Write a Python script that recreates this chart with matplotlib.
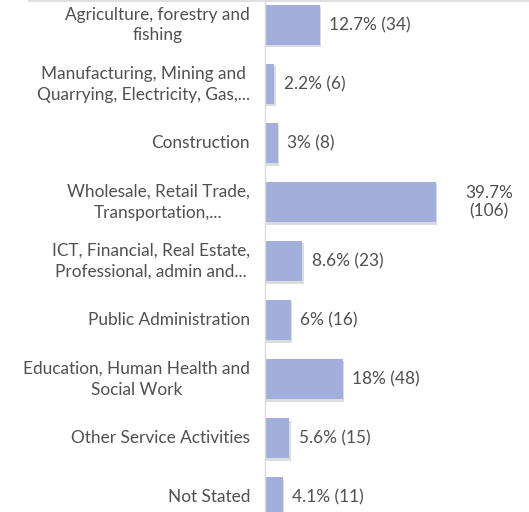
import matplotlib.pyplot as plt
from matplotlib.lines import Line2D

categories = ['Agriculture, forestry and\nfishing',
              'Manufacturing, Mining and\nQuarrying, Electricity, Gas,...',
              'Construction',
              'Wholesale, Retail Trade,\nTransportation,...',
              'ICT, Financial, Real Estate,\nProfessional, admin and...',
              'Public Administration',
              'Education, Human Health and\nSocial Work',
              'Other Service Activities',
              'Not Stated']
percents = [12.7, 2.2, 3, 39.7, 8.6, 6, 18, 5.6, 4.1]
counts = [34, 6, 8, 106, 23, 16, 48, 15, 11]
value_labels = ['12.7% (34)', '2.2% (6)', '3% (8)', '39.7%\n(106)', '8.6% (23)',
                '6% (16)', '18% (48)', '5.6% (15)', '4.1% (11)']

plt.rcParams['font.family'] = ['Lato', 'DejaVu Sans']
txt = '#505050'
bar_col = '#a2aedb'
fs = 12.4

fig = plt.figure(figsize=(5.29, 5.12), dpi=100)
ax = fig.add_axes([265 / 529, 0, 1 - 265 / 529, 1])

ypos = list(range(len(categories)))
# faint shadow then bar
ax.barh([y + 0.04 for y in ypos], [p + 0.35 for p in percents], height=0.68,
        color='#dcdcdc', left=0.0, zorder=1)
ax.barh(ypos, percents, height=0.68, color=bar_col, zorder=2)

for y, p, lab in zip(ypos, percents, value_labels):
    if '\n' in lab:
        ax.text(p + 12.3, y, lab, ha='center', va='center', fontsize=fs,
                color=txt, linespacing=1.15)
    else:
        ax.text(p + 2.2, y, lab, ha='left', va='center', fontsize=fs, color=txt)

for y, c in zip(ypos, categories):
    ax.text(-3.5, y, c, ha='right', va='center', fontsize=fs, color=txt,
            linespacing=1.38, multialignment='center')

ax.set_xlim(0, 61.3)
ax.set_ylim(8.25, -0.424)
ax.set_xticks([])
ax.set_yticks([])
for s in ['top', 'right', 'bottom']:
    ax.spines[s].set_visible(False)
ax.spines['left'].set_color('#d9d9d9')
ax.spines['left'].set_linewidth(1)

fig.add_artist(Line2D([0.055, 1], [0.998, 0.998], color='#d9d9d9', lw=1.2,
                      transform=fig.transFigure))

fig.savefig('out.png', dpi=100)
